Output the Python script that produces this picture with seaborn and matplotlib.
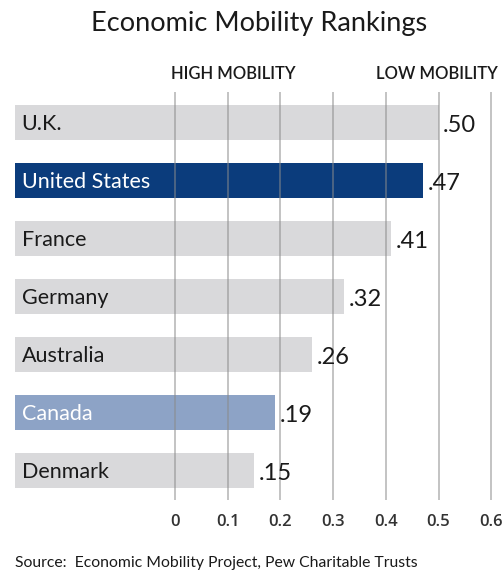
import matplotlib
matplotlib.use("Agg")
import matplotlib.pyplot as plt
import seaborn as sns
import pandas as pd

# data
countries = ["U.K.", "United States", "France", "Germany", "Australia", "Canada", "Denmark"]
values = [0.50, 0.47, 0.41, 0.32, 0.26, 0.19, 0.15]
value_labels = [".50", ".47", ".41", ".32", ".26", ".19", ".15"]
tick_vals = [0, 0.1, 0.2, 0.3, 0.4, 0.5, 0.6]
tick_labels = ["0", "0.1", "0.2", "0.3", "0.4", "0.5", "0.6"]

GRAY = "#d9d9db"
NAVY = "#0b3c7c"
LIGHT = "#8da3c6"
bar_colors = [GRAY, NAVY, GRAY, GRAY, GRAY, LIGHT, GRAY]
text_colors = ["#1a1a1a", "white", "#1a1a1a", "#1a1a1a", "#1a1a1a", "white", "#1a1a1a"]
BAR_START = -0.304

df = pd.DataFrame({"country": countries, "value": values})

sns.set_theme(style="white")
plt.rcParams["font.family"] = ["Lato", "DejaVu Sans"]

fig = plt.figure(figsize=(5.04, 5.71), dpi=100)
ax = fig.add_axes([0, 71 / 571, 1, 408 / 571])

sns.barplot(data=df, x="value", y="country", hue="country",
            palette=dict(zip(countries, bar_colors)), width=0.6,
            legend=False, saturation=1, ax=ax)

# bars start left of zero so the labels fit inside
for p in ax.patches:
    right = p.get_x() + p.get_width()
    p.set_x(BAR_START)
    p.set_width(right - BAR_START)
    p.set_edgecolor("none")

ax.set_xlim(-175 / 527, (504 - 175) / 527)
ax.set_ylim(6.51, -0.53)

for i, (c, v, lab) in enumerate(zip(countries, values, value_labels)):
    ax.text(BAR_START + 0.013, i + 0.03, c, va="center", ha="left",
            fontsize=15.5, color=text_colors[i], zorder=5)
    ax.text(v + 0.009, i + 0.05, lab, va="center", ha="left",
            fontsize=17, color="#1a1a1a", zorder=5)

ax.tick_params(axis="x", length=0, pad=10, labelsize=12, labelcolor="#333333")
ax.set_xticks(tick_vals)
ax.set_xticklabels(tick_labels, fontsize=12, fontweight="semibold",
                   fontfamily="Open Sans")
ax.set_yticks([])
ax.set_xlabel("")
ax.set_ylabel("")
ax.grid(axis="x", color="#8a8a8a", alpha=0.6, linewidth=1.2)
ax.set_axisbelow(False)
for s in ax.spines.values():
    s.set_visible(False)

fig.text(259 / 504, 1 - 23 / 571, "Economic Mobility Rankings", ha="center",
         va="center", fontsize=19.5, color="#1a1a1a")
fig.text(233 / 504, 1 - 74 / 571, "HIGH MOBILITY", ha="center", va="center",
         fontsize=12, fontweight="semibold", color="#1a1a1a")
fig.text(437 / 504, 1 - 74 / 571, "LOW MOBILITY", ha="center", va="center",
         fontsize=12, fontweight="semibold", color="#1a1a1a")
fig.text(15 / 504, 1 - 563 / 571, "Source:  Economic Mobility Project, Pew Charitable Trusts",
         ha="left", va="center", fontsize=11.3, color="#1a1a1a")

fig.savefig("out.png", dpi=100)
